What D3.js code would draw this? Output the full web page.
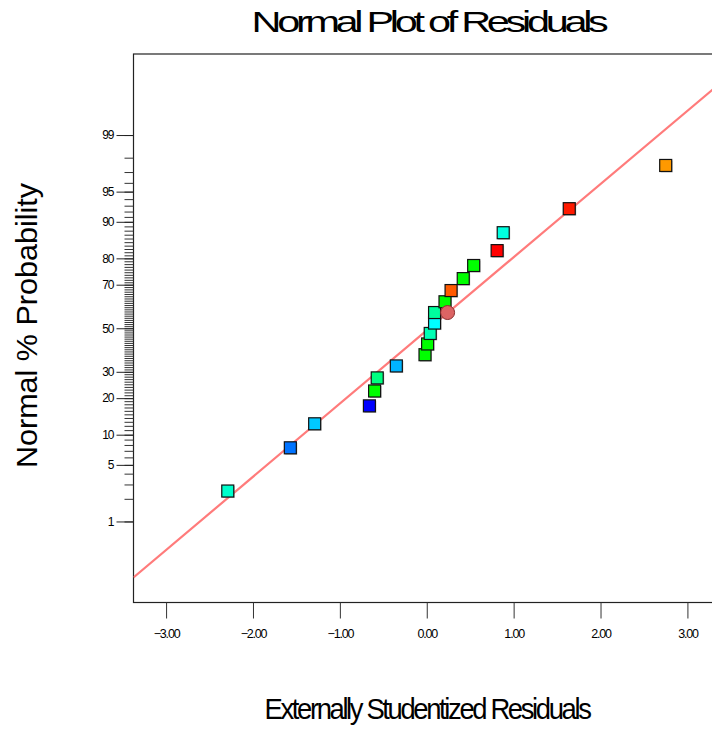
<!DOCTYPE html>
<html>
<head>
<meta charset="utf-8">
<script src="https://cdn.jsdelivr.net/npm/d3@7"></script>
<style>
  html, body { margin: 0; padding: 0; background: #fff; }
  svg { display: block; font-family: "Liberation Sans", Arial, sans-serif; }
</style>
</head>
<body>
<svg id="chart" width="712" height="729"></svg>
<script>
// Externally studentized residuals, sorted, with their normal plotting probabilities (%)
const residuals = [-2.29, -1.57, -1.29, -0.66, -0.60, -0.57, -0.35, -0.02, 0.01, 0.04,
                   0.09, 0.09, 0.21, 0.28, 0.42, 0.54, 0.81, 0.88, 1.64, 2.75];
const probabilities = [2.5, 7.5, 12.5, 17.5, 22.5, 27.5, 32.5, 37.5, 42.5, 47.5,
                       52.5, 57.5, 62.5, 67.5, 72.5, 77.5, 82.5, 87.5, 92.5, 97.5];
const pointColors = ["#00ffcc", "#0073ff", "#00c8ff", "#0000ff", "#00ff00", "#00ff80", "#00b4ff", "#00ff00", "#00ff00", "#00ffb4",
                     "#00ffff", "#00ff9e", "#00ff00", "#ff5a00", "#00ff00", "#00ff00", "#ff0000", "#00ffe0", "#ff1a00", "#ff9900"];

// Highlighted point (circle marker)
const highlightResidual = [0.24];
const highlightProbability = [57.5];

// Reference line end points (residual, probability %)
const lineResiduals = [-3.375, 3.375];
const lineProbabilities = [0.135, 99.84];

// Axis tick values
const xTicks = [-3, -2, -1, 0, 1, 2, 3];
const yTickLabels = [1, 5, 10, 20, 30, 50, 70, 80, 90, 95, 99];
const yMinorTicks = d3.range(1, 100);

// Inverse standard normal CDF (Acklam's rational approximation)
function probit(p) {
  const a = [-3.969683028665376e+01, 2.209460984245205e+02, -2.759285104469687e+02,
             1.383577518672690e+02, -3.066479806614716e+01, 2.506628277459239e+00];
  const b = [-5.447609879822406e+01, 1.615858368580409e+02, -1.556989798598866e+02,
             6.680131188771972e+01, -1.328068155288572e+01];
  const c = [-7.784894002430293e-03, -3.223964580411365e-01, -2.400758277161838e+00,
             -2.549732539343734e+00, 4.374664141464968e+00, 2.938163982698783e+00];
  const d = [7.784695709041462e-03, 3.224671290700398e-01, 2.445134137142996e+00,
             3.754408661907416e+00];
  const pl = 0.02425, ph = 1 - pl;
  let q, r;
  if (p < pl) {
    q = Math.sqrt(-2 * Math.log(p));
    return (((((c[0]*q+c[1])*q+c[2])*q+c[3])*q+c[4])*q+c[5]) / ((((d[0]*q+d[1])*q+d[2])*q+d[3])*q+1);
  }
  if (p <= ph) {
    q = p - 0.5; r = q * q;
    return (((((a[0]*r+a[1])*r+a[2])*r+a[3])*r+a[4])*r+a[5])*q / (((((b[0]*r+b[1])*r+b[2])*r+b[3])*r+b[4])*r+1);
  }
  q = Math.sqrt(-2 * Math.log(1 - p));
  return -(((((c[0]*q+c[1])*q+c[2])*q+c[3])*q+c[4])*q+c[5]) / ((((d[0]*q+d[1])*q+d[2])*q+d[3])*q+1);
}
const z = pct => probit(pct / 100);

const svg = d3.select("#chart");
const plot = { left: 133.5, right: 720, top: 54, bottom: 602.5 };

const x = d3.scaleLinear().domain([-3.375, 3.375]).range([plot.left, plot.right]);
const y = d3.scaleLinear().domain([-3.302, 3.302]).range([plot.bottom, plot.top]);

svg.append("defs").append("clipPath").attr("id", "plotClip")
  .append("rect")
  .attr("x", plot.left).attr("y", plot.top)
  .attr("width", plot.right - plot.left).attr("height", plot.bottom - plot.top);

// Title
svg.append("text")
  .attr("x", 428).attr("y", 32)
  .attr("text-anchor", "middle")
  .attr("font-size", 29)
  .attr("letter-spacing", -3)
  .attr("textLength", 353).attr("lengthAdjust", "spacingAndGlyphs")
  .text("Normal Plot of Residuals");

// Plot frame
svg.append("rect")
  .attr("x", plot.left).attr("y", plot.top)
  .attr("width", plot.right - plot.left).attr("height", plot.bottom - plot.top)
  .attr("fill", "none").attr("stroke", "#222").attr("stroke-width", 1.2);

// Y axis: minor ticks at every percent, labelled major ticks
const yMinor = d3.axisLeft(y)
  .tickValues(yMinorTicks.map(z))
  .tickSize(9).tickFormat("");
svg.append("g").attr("transform", `translate(${plot.left},0)`).call(yMinor)
  .call(g => g.select(".domain").remove())
  .call(g => g.selectAll("line").attr("stroke", "#333"));

const labelByZ = new Map(yTickLabels.map(p => [z(p), p]));
const yMajor = d3.axisLeft(y)
  .tickValues(yTickLabels.map(z))
  .tickSize(17).tickPadding(3)
  .tickFormat(v => String(labelByZ.get(v)));
svg.append("g").attr("transform", `translate(${plot.left},0)`).call(yMajor)
  .call(g => g.select(".domain").remove())
  .call(g => g.selectAll("line").attr("stroke", "#222"))
  .call(g => g.selectAll("text")
    .attr("font-family", "Liberation Sans, Arial, sans-serif")
    .attr("font-size", 12).attr("letter-spacing", -1).attr("fill", "#000"));

// X axis
const xAxis = d3.axisBottom(x)
  .tickValues(xTicks)
  .tickSize(16).tickPadding(11)
  .tickFormat(d3.format(".2f"));
svg.append("g").attr("transform", `translate(0,${plot.bottom})`).call(xAxis)
  .call(g => g.select(".domain").remove())
  .call(g => g.selectAll("line").attr("stroke", "#333"))
  .call(g => g.selectAll("text")
    .attr("font-family", "Liberation Sans, Arial, sans-serif")
    .attr("font-size", 12.5).attr("letter-spacing", -1.2).attr("fill", "#000"));

// Axis titles
svg.append("text")
  .attr("transform", "translate(37,325.5) rotate(-90)")
  .attr("text-anchor", "middle")
  .attr("font-size", 29)
  .attr("textLength", 285).attr("lengthAdjust", "spacingAndGlyphs")
  .text("Normal % Probability");

svg.append("text")
  .attr("x", 427).attr("y", 719)
  .attr("text-anchor", "middle")
  .attr("font-size", 29)
  .attr("letter-spacing", -2.5)
  .attr("textLength", 325).attr("lengthAdjust", "spacingAndGlyphs")
  .text("Externally Studentized Residuals");

const marks = svg.append("g").attr("clip-path", "url(#plotClip)");

// Reference line
const line = d3.line().x(d => x(d[0])).y(d => y(z(d[1])));
marks.append("path")
  .datum(d3.zip(lineResiduals, lineProbabilities))
  .attr("d", line)
  .attr("fill", "none").attr("stroke", "#ff7b7b").attr("stroke-width", 2.2);

// Square markers
const pts = d3.zip(residuals, probabilities, pointColors);
const s = 12;
marks.selectAll("rect.shadow").data(pts).join("rect")
  .attr("class", "shadow")
  .attr("x", d => x(d[0]) - s / 2 + 1).attr("y", d => y(z(d[1])) - s / 2 + 1)
  .attr("width", s).attr("height", s)
  .attr("fill", "#888").attr("opacity", 0.5);
marks.selectAll("rect.pt").data(pts).join("rect")
  .attr("class", "pt")
  .attr("x", d => x(d[0]) - s / 2).attr("y", d => y(z(d[1])) - s / 2)
  .attr("width", s).attr("height", s)
  .attr("fill", d => d[2]).attr("stroke", "#111").attr("stroke-width", 1.2);

// Highlighted circle marker
marks.selectAll("circle.hl").data(d3.zip(highlightResidual, highlightProbability)).join("circle")
  .attr("class", "hl")
  .attr("cx", d => x(d[0])).attr("cy", d => y(z(d[1])))
  .attr("r", 7)
  .attr("fill", "#dc6464").attr("stroke", "#8a2e2e").attr("stroke-width", 1);
</script>
</body>
</html>
